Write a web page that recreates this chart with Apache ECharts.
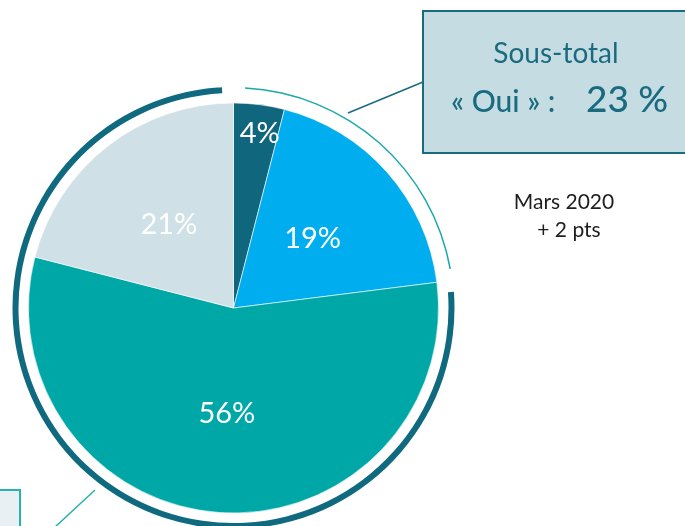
<!DOCTYPE html>
<html>
<head>
<meta charset="utf-8">
<script src="https://cdn.jsdelivr.net/npm/echarts@6/dist/echarts.min.js"></script>
<style>
  html, body { margin: 0; padding: 0; background: #fff; }
  #chart { width: 685px; height: 526px; }
</style>
</head>
<body>
<div id="chart"></div>
<script>
// answers, clockwise from top
const labels = ['Oui, tout à fait', 'Oui, plutôt', 'Non, plutôt pas', 'Non, pas du tout']
const values = [4, 19, 56, 21]
const colors = ['#10667c', '#00adef', '#00a7a7', '#cfe0e6']
// sous-totaux for the outer arcs
const groups = ['Oui', 'Non']
const groupValues = [23, 77]

const center = [233.5, 308]
const font = 'Lato, "Open Sans", sans-serif'

let chart = echarts.init(document.getElementById('chart'))

let pieData = values.map((v, i) => {
  let item = {
    name: labels[i],
    value: v,
    itemStyle: { color: colors[i] }
  }
  // small slice: label pushed outward
  if (i === 0) item.label = { offset: [13, -70] }
  return item
})

let option = {
  animation: false,
  series: [
    {
      type: 'pie',
      center: center,
      radius: [0, 205],
      startAngle: 90,
      silent: true,
      itemStyle: { borderColor: '#ffffff', borderWidth: 0.6 },
      label: {
        show: true,
        position: 'inside',
        formatter: '{c}%',
        color: '#ffffff',
        fontFamily: font,
        fontSize: 29,
        fontWeight: 'normal',
        padding: [6, 0, 0, 0]
      },
      labelLine: { show: false },
      data: pieData
    },
    {
      // thin arc over the "Oui" part
      type: 'pie',
      center: center,
      radius: [219.5, 221],
      startAngle: 90,
      padAngle: 6,
      silent: true,
      label: { show: false },
      labelLine: { show: false },
      data: groupValues.map((v, i) => ({
        name: groups[i],
        value: v,
        itemStyle: { color: i === 0 ? '#1aa9a9' : 'rgba(0,0,0,0)' }
      }))
    },
    {
      // thick arc over the "Non" part
      type: 'pie',
      center: center,
      radius: [215, 221],
      startAngle: 90,
      padAngle: 6,
      silent: true,
      label: { show: false },
      labelLine: { show: false },
      data: groupValues.map((v, i) => ({
        name: groups[i],
        value: v,
        itemStyle: { color: i === 1 ? '#0f6a80' : 'rgba(0,0,0,0)' }
      }))
    }
  ],
  graphic: [
    {
      type: 'line',
      shape: { x1: 348, y1: 113, x2: 423, y2: 82 },
      style: { stroke: '#1a6b80', lineWidth: 1.5 }
    },
    {
      type: 'rect',
      shape: { x: 423, y: 11, width: 270, height: 142 },
      style: { fill: '#c5dde2', stroke: '#1a6b80', lineWidth: 2 }
    },
    {
      type: 'text',
      x: 556, y: 54,
      style: {
        text: 'Sous-total',
        fill: '#1a6b80',
        font: 'normal 28px ' + font,
        textAlign: 'center',
        textVerticalAlign: 'middle'
      }
    },
    {
      type: 'text',
      x: 451, y: 102,
      style: {
        text: '« Oui » :',
        fill: '#1a6b80',
        font: '500 30px ' + font,
        textAlign: 'left',
        textVerticalAlign: 'middle'
      }
    },
    {
      type: 'text',
      x: 586, y: 100,
      style: {
        text: groupValues[0] + ' %',
        fill: '#1a6b80',
        font: '500 37px ' + font,
        textAlign: 'left',
        textVerticalAlign: 'middle'
      }
    },
    {
      type: 'text',
      x: 564, y: 202,
      style: {
        text: 'Mars 2020',
        fill: '#1e1e1e',
        font: '21px ' + font,
        textAlign: 'center',
        textVerticalAlign: 'middle'
      }
    },
    {
      type: 'text',
      x: 569, y: 230,
      style: {
        text: '+ 2 pts',
        fill: '#1e1e1e',
        font: '21px ' + font,
        textAlign: 'center',
        textVerticalAlign: 'middle'
      }
    },
    {
      type: 'line',
      shape: { x1: 95, y1: 490, x2: 54, y2: 528 },
      style: { stroke: '#2ab0b0', lineWidth: 1.5 }
    },
    {
      type: 'rect',
      shape: { x: -10, y: 490, width: 30, height: 50 },
      style: { fill: '#e8f0f3', stroke: '#2ab0b0', lineWidth: 2 }
    }
  ]
}
chart.setOption(option)
</script>
</body>
</html>
